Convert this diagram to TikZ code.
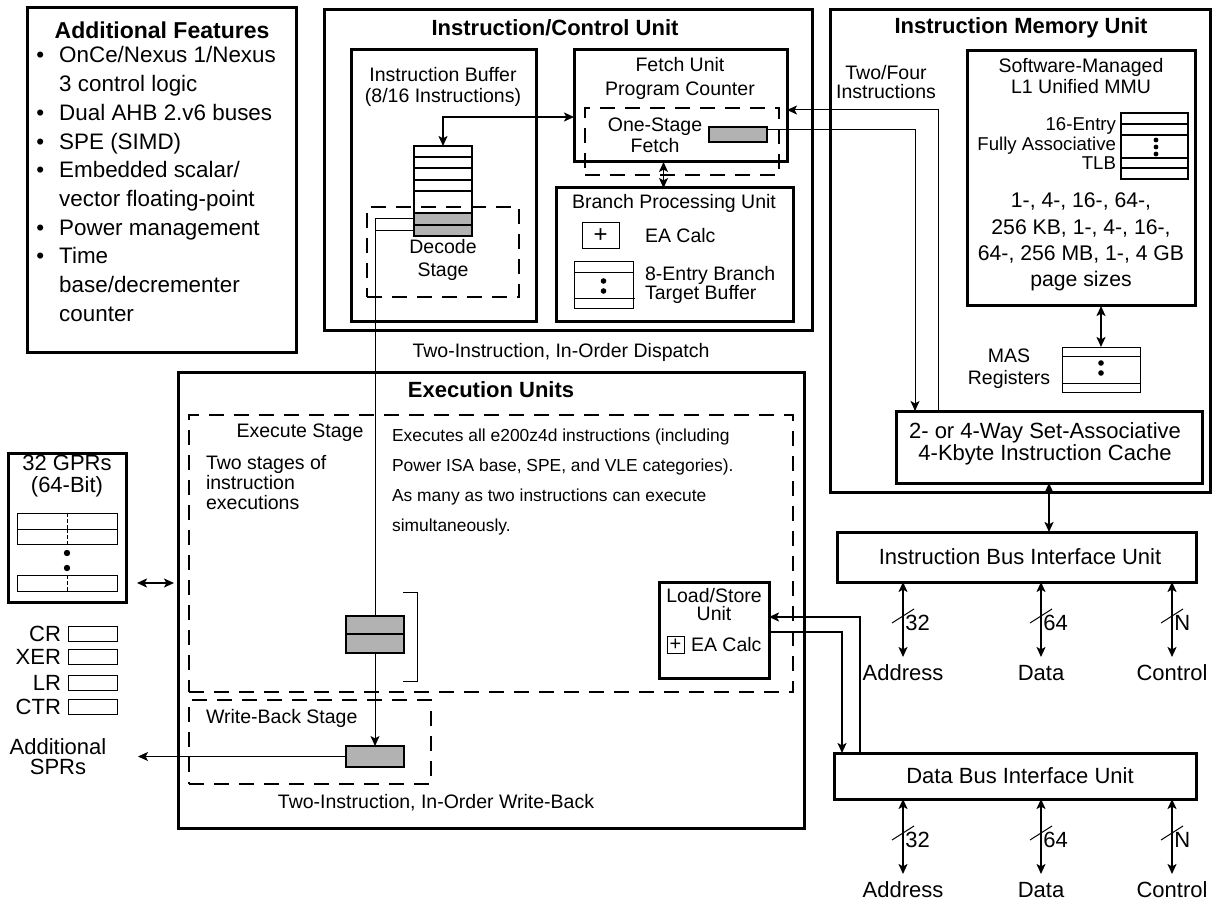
\documentclass[tikz,border=0pt]{standalone}
\usepackage{fontspec}
\setmainfont{Liberation Sans}
\usetikzlibrary{arrows.meta,fit}
\definecolor{latchgray}{RGB}{178,178,178}
\newcommand{\blockat}[4]{%
  \node[#1,fit={(#3) (#4)}] (#2) {};
}
\tikzset{
  unitbox/.style={draw,line width=1.5pt,inner sep=0pt,outer sep=0pt},
  cellbox/.style={draw,line width=0.5pt,inner sep=0pt,outer sep=0pt},
  stackbox/.style={draw,fill=white,line width=1pt,inner sep=0pt,outer sep=0pt},
  latch/.style={draw,fill=latchgray,line width=1pt,inner sep=0pt,outer sep=0pt},
  stagebox/.style={draw,line width=1pt,dash pattern=on 7.5pt off 5pt,inner sep=0pt,outer sep=0pt},
  wire/.style={line width=0.5pt},
  sigline/.style={line width=0.75pt},
  busline/.style={line width=1pt},
  tipend/.style={-{Stealth[length=5pt,width=4.5pt,inset=1.2pt]}},
  tipboth/.style={{Stealth[length=5pt,width=4.5pt,inset=1.2pt]}-{Stealth[length=5pt,width=4.5pt,inset=1.2pt]}},
  big/.style={font=\fontsize{11}{13}\selectfont},
  mid/.style={font=\fontsize{9.75}{10}\selectfont},
  title/.style={font=\fontsize{11}{13}\selectfont\bfseries},
}

\begin{document}
\begin{tikzpicture}[x=0.5pt,y=-0.5pt]
  \useasboundingbox (0,0) rectangle (1219,903);

  % additional features
  \blockat{unitbox}{feat}{27,8}{296,352}
  \node[font=\fontsize{11.5}{13}\selectfont\bfseries] (feattitle) at (162,30) {Additional Features};
  \node[inner sep=0pt,anchor=base west] (featlist) at (36,63) {\fontsize{11.2}{14.35}\selectfont
    \begin{tabular}[t]{@{}l@{\hspace{7.5pt}}l@{}}
      \textbullet & OnCe/Nexus 1/Nexus\\
                  & 3 control logic\\
      \textbullet & Dual AHB 2.v6 buses\\
      \textbullet & SPE (SIMD)\\
      \textbullet & Embedded scalar/\\
                  & vector floating-point\\
      \textbullet & Power management\\
      \textbullet & Time\\
                  & base/decrementer\\
                  & counter
    \end{tabular}};

  % instruction/control unit
  \blockat{unitbox}{icu}{324,10}{812,331}
  \node[title] (icutitle) at (555,28) {Instruction/Control Unit};
  \blockat{unitbox}{ibuf}{351,50}{536,322}
  \node[mid,align=center,font=\fontsize{9.75}{10.5}\selectfont] (ibuftext) at (443,87) {Instruction Buffer\\(8/16 Instructions)};
  \blockat{stackbox}{stack}{414,146}{472,236}
  \foreach \y in {157,168,180,191}
    \draw[line width=1pt] (414,\y) -- (472,\y);
  \blockat{latch}{dec1}{414,213}{472,225}
  \blockat{latch}{dec2}{414,225}{472,236}
  \blockat{stagebox}{decode}{367,207}{519,297}
  \node[mid,align=center] (decodetext) at (443,260) {Decode\\[1.5pt]Stage};

  \blockat{unitbox}{fetch}{574,50}{787,162}
  \node[mid,align=center] (fetchtext) at (680,78) {Fetch Unit\\[2pt]Program Counter};
  \blockat{stagebox}{fstage}{585,108}{779,175}
  \node[mid,align=center,font=\fontsize{9.75}{10.5}\selectfont] (fstagetext) at (655,135) {One-Stage\\Fetch};
  \blockat{latch}{fgray}{709,127}{767,142}

  \blockat{unitbox}{bpu}{556,188}{793,322}
  \node[mid] (bputext) at (674,203) {Branch Processing Unit};
  \blockat{cellbox}{bplus}{582,223}{619,249}
  \node[font=\fontsize{12}{12}\selectfont,inner sep=0pt] (bplussign) at (bplus) {+};
  \node[mid,anchor=west] (bea) at (638,236) {EA Calc};
  \blockat{cellbox}{btb}{574,262}{633,309}
  \draw[wire] (btb.west |- 0,273) -- (btb.east |- 0,273);
  \draw[wire] (btb.west |- 0,299) -- ([xshift=1pt]btb.east |- 0,299);
  \foreach \y in {281,291}
    \fill (btb.center |- 0,\y) circle[radius=1.4pt];
  \node[mid,anchor=west,align=left,font=\fontsize{9.75}{9.5}\selectfont] (btbtext) at (638,285) {8-Entry Branch\\Target Buffer};

  \draw[busline,tipboth] (stack.north) |- ([yshift=-5.5pt]fetch.west);
  \draw[wire,tipboth] ([xshift=-5.5pt]bpu.north) -- ([xshift=-5.5pt]bpu.north |- fetch.south);

  % instruction memory unit
  \blockat{unitbox}{imu}{830,10}{1210,492}
  \node[title] (imutitle) at (1021,28) {Instruction Memory Unit};
  \node[mid,align=center,font=\fontsize{9.75}{9.5}\selectfont] (twofour) at (886,82) {Two/Four\\Instructions};
  \blockat{unitbox}{mmu}{967,51}{1195,306}
  \node[mid,align=center,font=\fontsize{9.75}{10.5}\selectfont] (mmutext) at (1081,76) {Software-Managed\\L1 Unified MMU};
  \node[draw,line width=1pt,inner sep=0pt,fit={(1121,113) (1188,179)}] (tlb) {};
  \foreach \y in {124,135,158,168}
    \draw[line width=1pt] (tlb.west |- 0,\y) -- (tlb.east |- 0,\y);
  \foreach \y in {140,147,154}
    \fill (1156,\y) circle[radius=1.2pt];
  \node[anchor=east,align=right,font=\fontsize{9.3}{9.75}\selectfont] (tlbtext) at (1123,144) {16-Entry\\Fully Associative\\TLB};
  \node[align=center,font=\fontsize{10.6}{13.15}\selectfont] (pages) at (1081,242) {1-, 4-, 16-, 64-,\\256 KB, 1-, 4-, 16-,\\64-, 256 MB, 1-, 4 GB\\page sizes};
  \blockat{cellbox}{mas}{1062,347}{1140,392}
  \draw[wire] (mas.west |- 0,356) -- (mas.east |- 0,356);
  \draw[wire] (mas.west |- 0,383) -- (mas.east |- 0,383);
  \foreach \y in {363,373}
    \fill (mas.center |- 0,\y) circle[radius=1.4pt];
  \node[mid,align=center,font=\fontsize{9.75}{11}\selectfont] (mastext) at (1009,369) {MAS\\Registers};
  \draw[busline,tipboth] (mas.north |- mmu.south) -- (mas.north);
  \blockat{unitbox}{cache}{896,411}{1202,483}
  \node[align=center,font=\fontsize{11}{11}\selectfont] (cachetext) at (1045,444) {2- or 4-Way Set-Associative\\4-Kbyte Instruction Cache};

  \draw[wire,tipend] ([xshift=21pt]cache.north west) |- ([yshift=-2pt]fetch.east);
  \draw[wire,tipend] ([yshift=2.5pt]fgray.east) -| ([xshift=9.5pt]cache.north west);

  % bus interfaces
  \blockat{unitbox}{ibiu}{837,532}{1196,582}
  \node[big] (ibiutext) at (1020,557) {Instruction Bus Interface Unit};
  \blockat{unitbox}{dbiu}{834,753}{1196,799}
  \node[big] (dbiutext) at (1020,776) {Data Bus Interface Unit};
  \draw[busline,tipboth] (cache.south) -- (cache.south |- ibiu.north);
  \foreach \bus in {ibiu,dbiu}{
    \foreach \x/\w/\sig in {903/32/Address,1041/64/Data,1172/N/Control}{
      \coordinate (tap) at (\x,0);
      \draw[sigline,tipboth] (\bus.south -| tap) -- ++(0,75);
      \draw[wire] ([shift={(-11,41)}]\bus.south -| tap) -- ++(22,-14);
      \node[big,anchor=west,inner sep=1pt] (num\bus\w) at ([shift={(0,41)}]\bus.south -| tap) {\w};
      \node[big] (sig\bus\w) at ([shift={(0,91)}]\bus.south -| tap) {\sig};
    }
  }

  % execution units
  \node[mid] (dispatch) at (561,352) {Two-Instruction, In-Order Dispatch};
  \blockat{unitbox}{exu}{178,372}{804,828}
  \node[title] (exutitle) at (491,390) {Execution Units};
  \blockat{stagebox}{exstage}{189,415}{793,692}
  \node[mid] (exstagetext) at (300,433) {Execute Stage};
  \node[mid,anchor=west,align=left] (twostages) at (199,483) {Two stages of\\instruction\\executions};
  \node[anchor=west,align=left,font=\fontsize{8.7}{14.85}\selectfont] (exdesc) at (385,482) {Executes all e200z4d instructions (including\\Power ISA base, SPE, and VLE categories).\\As many as two instructions can execute\\simultaneously.};
  \blockat{latch}{exe1}{346,616}{404,634}
  \blockat{latch}{exe2}{346,634}{404,653}
  \draw[wire] (403,592) -| (417,681) -- (403,681);
  \blockat{stagebox}{wbstage}{189,700}{431,784}
  \node[mid,anchor=west] (wbtext) at (199,718) {Write-Back Stage};
  \blockat{latch}{wb}{346,746}{404,767}
  \node[mid] (writeback) at (436,803) {Two-Instruction, In-Order Write-Back};

  \blockat{unitbox}{lsu}{659,582}{769,678}
  \node[mid,align=center,font=\fontsize{9.75}{9}\selectfont] (lsutext) at (714,605) {Load/Store\\Unit};
  \blockat{cellbox}{lplus}{667,636}{684,653}
  \node[font=\fontsize{10}{10}\selectfont,inner sep=0pt] (lplussign) at (lplus) {+};
  \node[mid,anchor=west] (lea) at (684,645) {EA Calc};

  \draw[wire] (dec1.west) -| (exe1.north);
  \draw[wire] (dec2.west) -- (dec2.west -| exe1.north);
  \draw[wire,tipend] (exe2.south) -- (wb.north);
  \draw[busline,tipend] ([xshift=13pt]dbiu.north west) |- ([yshift=6.5pt]lsu.east);
  \draw[busline,tipend] ([yshift=-1pt]lsu.east) -| ([xshift=4pt]dbiu.north west);

  % registers
  \blockat{unitbox}{gpr}{8,453}{126,602}
  \node[align=center,font=\fontsize{11}{11}\selectfont] (gprtext) at (67,476) {32 GPRs\\(64-Bit)};
  \blockat{cellbox}{gpr0}{17,513}{117,529}
  \blockat{cellbox}{gpr1}{17,529}{117,544}
  \blockat{cellbox}{gpr31}{17,575}{117,591}
  \foreach \r in {gpr0,gpr1,gpr31}
    \draw[wire,dash pattern=on 2pt off 1pt] (\r.north) -- (\r.south);
  \foreach \y in {553,568}
    \fill (gpr0.center |- 0,\y) circle[radius=1.6pt];
  \coordinate (gprtap) at ([shift={(11,-19)}]gpr.south east);
  \draw[busline,tipboth] (gprtap) -- ([xshift=-2pt]gprtap -| exu.west);

  \foreach \y/\name in {634/CR,657/XER,683/LR,707/CTR}{
    \node[cellbox,fit={(68,\y-7.5) (117,\y+7.5)}] (reg\name) {};
    \node[big,anchor=east] (lab\name) at (reg\name.west) {\name};
  }
  \node[align=center,font=\fontsize{11}{10}\selectfont] (sprtext) at (58,757) {Additional\\SPRs};
  \coordinate (sprend) at (138,760);
  \draw[wire,tipend] (wb.west) -- (wb.west -| sprend);
\end{tikzpicture}
\end{document}
